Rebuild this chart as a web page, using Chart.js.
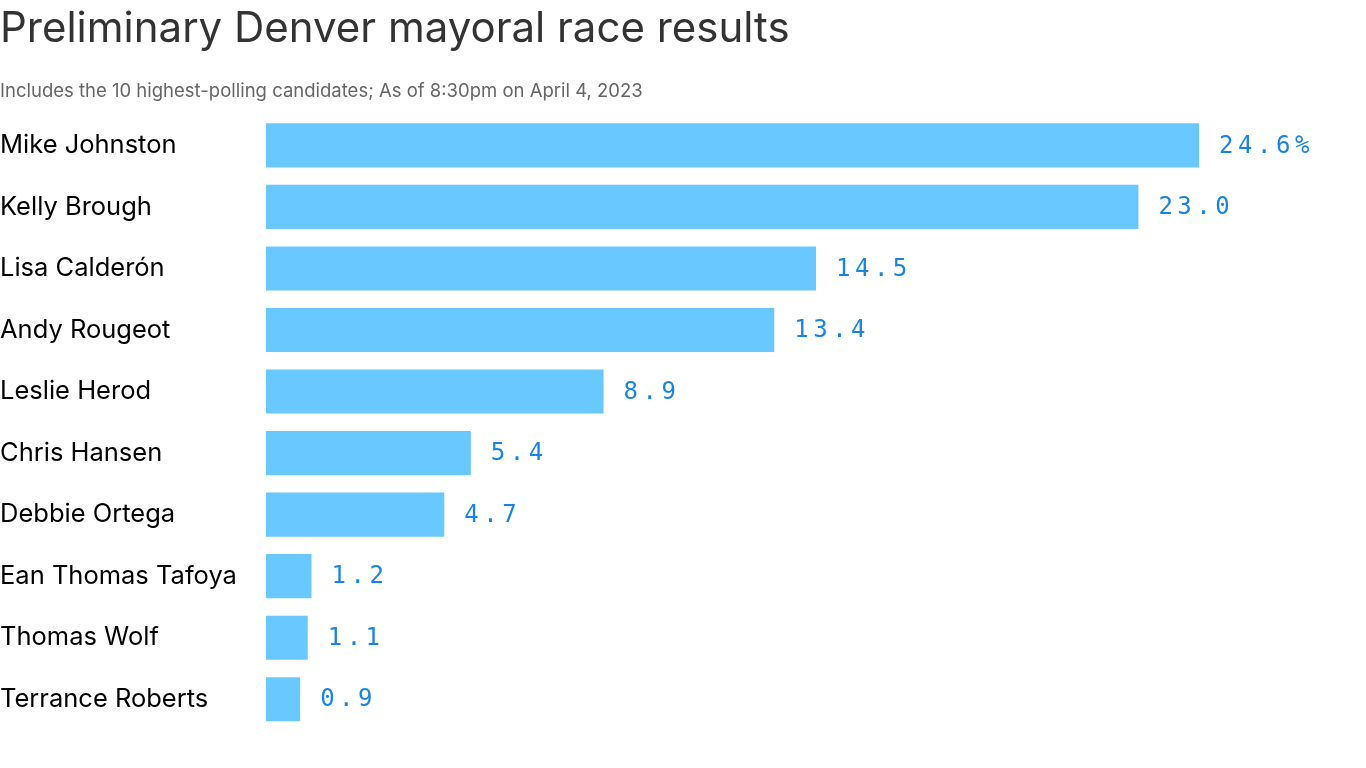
<!DOCTYPE html>
<html>
<head>
<meta charset="utf-8">
<script src="https://cdn.jsdelivr.net/npm/chart.js@4/dist/chart.umd.min.js"></script>
<style>
  html, body { margin: 0; padding: 0; background: #fff; }
  #wrap { width: 1366px; height: 768px; position: relative; }
</style>
</head>
<body>
<div id="wrap"><canvas id="chart"></canvas></div>
<script>
const candidates = [
  'Mike Johnston', 'Kelly Brough', 'Lisa Calderón', 'Andy Rougeot', 'Leslie Herod',
  'Chris Hansen', 'Debbie Ortega', 'Ean Thomas Tafoya', 'Thomas Wolf', 'Terrance Roberts'
];
const votePct = [24.6, 23.0, 14.5, 13.4, 8.9, 5.4, 4.7, 1.2, 1.1, 0.9];

const barColor = '#69c8ff';
const valueColor = '#1a85df';

// value text to the right of each bar, monospace with extra spacing
const valueLabels = {
  id: 'valueLabels',
  afterDatasetsDraw(chart) {
    const ctx = chart.ctx;
    const meta = chart.getDatasetMeta(0);
    ctx.save();
    ctx.font = '24px "DejaVu Sans Mono", monospace';
    ctx.fillStyle = valueColor;
    ctx.textAlign = 'left';
    ctx.textBaseline = 'middle';
    if ('letterSpacing' in ctx) ctx.letterSpacing = '4.5px';
    meta.data.forEach((bar, i) => {
      const txt = votePct[i].toFixed(1) + (i === 0 ? '%' : '');
      ctx.fillText(txt, bar.x + 20, bar.y + 1);
    });
    ctx.restore();
  }
};

new Chart(document.getElementById('chart'), {
  type: 'bar',
  data: {
    labels: candidates,
    datasets: [{
      data: votePct,
      backgroundColor: barColor,
      borderWidth: 0,
      barPercentage: 1,
      categoryPercentage: 0.717
    }]
  },
  options: {
    indexAxis: 'y',
    responsive: true,
    maintainAspectRatio: false,
    animation: false,
    layout: { padding: { top: 0, right: 0, bottom: 38, left: 0 } },
    scales: {
      x: { display: false, min: 0, max: 29 },
      y: {
        grid: { display: false },
        border: { display: false },
        ticks: {
          crossAlign: 'far',
          color: '#000',
          padding: 0,
          font: { family: 'Inter', size: 25.5 }
        },
        afterFit(scale) { scale.width = 266; }
      }
    },
    plugins: {
      legend: { display: false },
      tooltip: { enabled: false },
      title: {
        display: true,
        text: 'Preliminary Denver mayoral race results',
        align: 'start',
        color: '#333',
        font: { family: 'Inter', size: 42, weight: 'normal' },
        padding: { top: 4, bottom: 26 }
      },
      subtitle: {
        display: true,
        text: 'Includes the 10 highest-polling candidates; As of 8:30pm on April 4, 2023',
        align: 'start',
        color: '#666',
        font: { family: 'Inter', size: 18.5 },
        padding: { top: 0, bottom: 12 }
      }
    }
  },
  plugins: [valueLabels]
});
</script>
</body>
</html>
